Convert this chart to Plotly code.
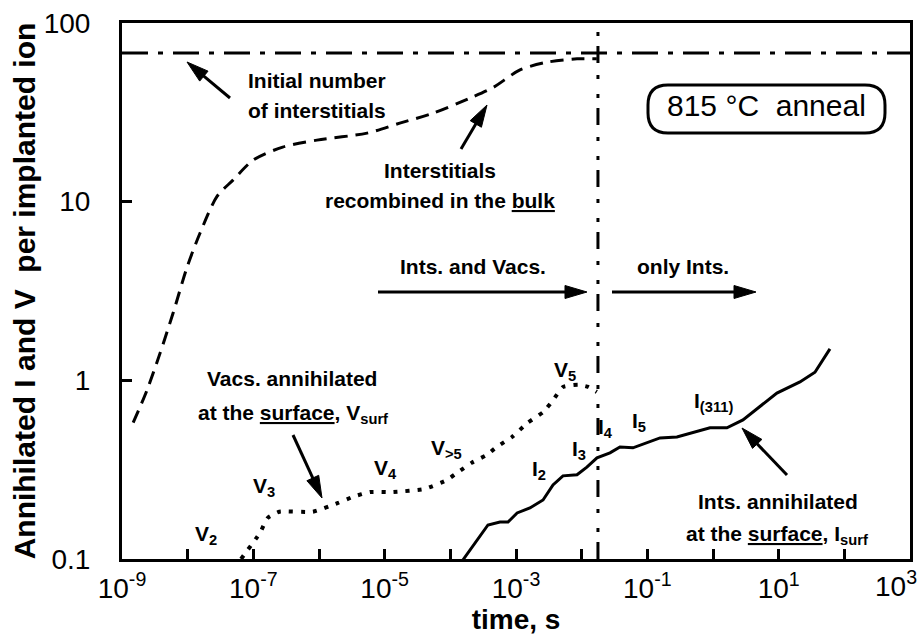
import math
import plotly.graph_objects as go

# ---- data: defect annihilation during a 815 °C anneal ----
# interstitials recombined in the bulk (dashed)
t_bulk = [1.48e-9, 2.4e-9, 3.8e-9, 6.0e-9, 9.8e-9, 1.55e-8, 2.8e-8, 4.9e-8, 1.0e-7,
          2.8e-7, 9.3e-7, 5.4e-6, 1.7e-5, 5.5e-5, 2.0e-4, 4.5e-4, 1.15e-3, 2.95e-3,
          8.5e-3, 1.7e-2]
i_bulk = [0.58, 0.88, 1.42, 2.38, 4.3, 6.7, 10.7, 13.2, 17.1,
          20.2, 22.1, 24.2, 27.5, 31.3, 38.0, 43.6, 54.6, 60.3,
          63.0, 63.0]

# vacancies annihilated at the surface (dotted)
t_vsurf = [6.5e-8, 1.26e-7, 1.66e-7, 2.5e-7, 8.1e-7, 1.95e-6, 3.3e-6, 6.0e-6, 1.35e-5,
           4.1e-5, 8.9e-5, 1.26e-4, 2.1e-4, 3.6e-4, 5.1e-4, 8.7e-4, 1.5e-3, 2.6e-3,
           3.6e-3, 5.2e-3, 8.9e-3, 1.26e-2, 1.7e-2]
v_surf = [0.100, 0.140, 0.170, 0.184, 0.184, 0.206, 0.223, 0.237, 0.237,
          0.247, 0.277, 0.303, 0.345, 0.383, 0.424, 0.482, 0.578, 0.665,
          0.767, 0.918, 0.944, 0.918, 0.861]

# interstitials annihilated at the surface (solid)
t_isurf = [1.56e-4, 3.74e-4, 5.7e-4, 7.55e-4, 1.04e-3, 1.63e-3, 2.58e-3, 3.66e-3, 5.19e-3,
           8.5e-3, 1.2e-2, 1.71e-2, 2.7e-2, 3.83e-2, 6.04e-2, 9.9e-2, 0.156, 0.282,
           0.9, 1.63, 2.86, 9.4, 21.1, 35.7, 60.4]
i_surf = [0.099, 0.155, 0.161, 0.161, 0.181, 0.193, 0.214, 0.26, 0.292,
          0.296, 0.327, 0.368, 0.393, 0.424, 0.419, 0.447, 0.476, 0.482,
          0.542, 0.542, 0.60, 0.849, 0.98, 1.11, 1.5]

initial_interstitials = 68.0   # per implanted ion
t_vac_exhausted = 0.0177       # s, end of the vacancy regime

x_range = [1e-9, 1e3]
y_range = [0.1, 100]
x_tick_vals = [1e-9, 1e-7, 1e-5, 1e-3, 1e-1, 1e1]
x_tick_text = ["10<sup>-9</sup>", "10<sup>-7</sup>", "10<sup>-5</sup>",
               "10<sup>-3</sup>", "10<sup>-1</sup>", "10<sup>1</sup>"]
x_minor_vals = [1e-8, 1e-6, 1e-4, 1e-2, 1e0, 1e2]
x_last_tick_text = "10<sup>3</sup>"
y_tick_vals = [0.1, 1, 10, 100]
y_tick_text = ["0.1", "1", "10", "100"]

# ---- geometry of the figure (pixels) ----
FIG_W, FIG_H = 919, 644
L, R, T, B = 122, 9, 23, 85
PW, PH = FIG_W - L - R, FIG_H - T - B
FONT = "Arial, 'Liberation Sans', sans-serif"


def paper(px, py):
    """pixel position in the figure -> paper coordinates"""
    return (px - L) / PW, (FIG_H - B - py) / PH


fig = go.Figure()

fig.add_trace(go.Scatter(x=x_range, y=[initial_interstitials] * 2, mode="lines",
                         line=dict(color="black", width=3, dash="26px,10px,5px,10px")))
fig.add_trace(go.Scatter(x=[t_vac_exhausted] * 2, y=y_range, mode="lines",
                         line=dict(color="black", width=3,
                                   dash="17px,10px,4px,15px,4px,12px")))
fig.add_trace(go.Scatter(x=t_bulk, y=i_bulk, mode="lines", line_shape="spline",
                         line=dict(color="black", width=3, dash="13px,8px", smoothing=0.8)))
fig.add_trace(go.Scatter(x=t_vsurf, y=v_surf, mode="lines", line_shape="spline",
                         line=dict(color="black", width=4, dash="4px,8px", smoothing=0.5)))
fig.add_trace(go.Scatter(x=t_isurf, y=i_surf, mode="lines",
                         line=dict(color="black", width=3)))

shapes = []


def arrow(tail, tip, head_len=22, head_half=6.5, width=3):
    tx, ty = tail
    hx, hy = tip
    d = math.hypot(hx - tx, hy - ty)
    ux, uy = (hx - tx) / d, (hy - ty) / d
    bx, by = hx - head_len * ux, hy - head_len * uy
    p1 = (bx - head_half * uy, by + head_half * ux)
    p2 = (bx + head_half * uy, by - head_half * ux)
    x0, y0 = paper(tx, ty)
    x1, y1 = paper(bx + 2 * ux, by + 2 * uy)
    shapes.append(dict(type="line", xref="paper", yref="paper", x0=x0, y0=y0, x1=x1, y1=y1,
                       line=dict(color="black", width=width)))
    pts = [paper(hx, hy), paper(*p1), paper(*p2)]
    path = "M{:.5f},{:.5f} L{:.5f},{:.5f} L{:.5f},{:.5f} Z".format(*pts[0], *pts[1], *pts[2])
    shapes.append(dict(type="path", xref="paper", yref="paper", path=path,
                       fillcolor="black", line=dict(color="black", width=1)))


def rounded_box(x0, y0, x1, y1, r):
    pts = [(x0 + r, y0), (x1 - r, y0), (x1, y0), (x1, y0 + r), (x1, y1 - r), (x1, y1),
           (x1 - r, y1), (x0 + r, y1), (x0, y1), (x0, y1 - r), (x0, y0 + r), (x0, y0),
           (x0 + r, y0)]
    p = [paper(*q) for q in pts]
    f = lambda q: "{:.5f},{:.5f}".format(*q)
    path = ("M" + f(p[0]) + " L" + f(p[1]) + " Q" + f(p[2]) + " " + f(p[3]) +
            " L" + f(p[4]) + " Q" + f(p[5]) + " " + f(p[6]) +
            " L" + f(p[7]) + " Q" + f(p[8]) + " " + f(p[9]) +
            " L" + f(p[10]) + " Q" + f(p[11]) + " " + f(p[12]) + " Z")
    shapes.append(dict(type="path", xref="paper", yref="paper", path=path,
                       line=dict(color="black", width=3)))


arrow((230, 98), (187, 62))        # initial number of interstitials
arrow((461, 149), (487, 105))      # recombined in the bulk
arrow((378, 292), (587, 292))      # ints. and vacs.
arrow((612, 292), (756, 292))      # only ints.
arrow((293, 435), (322, 498))      # V_surf
arrow((787, 475), (742, 428))      # I_surf
rounded_box(648, 85, 885, 133, 20)

annotations = []


def label(text, px, py, size=21, bold=True, xanchor="center"):
    x, y = paper(px, py)
    annotations.append(dict(text=("<b>" + text + "</b>") if bold else text,
                            x=x, y=y, xref="paper", yref="paper", showarrow=False,
                            xanchor=xanchor, yanchor="middle",
                            font=dict(family=FONT, size=size, color="black")))


label("Initial number", 246, 80, xanchor="left")
label("of interstitials", 246, 110, xanchor="left")
label("Interstitials", 440, 170)
label("recombined in the <u>bulk</u>", 440, 200)
label("Ints. and Vacs.", 473, 266)
label("only Ints.", 683, 266)
label("815 °C  anneal", 766, 106, size=30, bold=False)
label("Vacs. annihilated", 292, 378)
label("at the <u>surface</u>, V<sub>surf</sub>", 293, 414)
label("V<sub>2</sub>", 206, 535)
label("V<sub>3</sub>", 264, 487)
label("V<sub>4</sub>", 385, 469)
label("V<sub>&gt;5</sub>", 446, 449)
label("V<sub>5</sub>", 565, 371)
label("I<sub>2</sub>", 539, 470)
label("I<sub>3</sub>", 579, 450)
label("I<sub>4</sub>", 605, 428)
label("I<sub>5</sub>", 639, 422)
label("I<sub>(311)</sub>", 713, 402)
label("Ints. annihilated", 778, 501)
label("at the <u>surface</u>, I<sub>surf</sub>", 777, 535)
# last decade label on the time axis, pulled inside the figure edge
label(x_last_tick_text, 919, 584, size=28, bold=False, xanchor="right")

axis_common = dict(type="log", showgrid=False, zeroline=False, showline=True,
                   linecolor="black", linewidth=3, mirror=True, ticks="inside",
                   ticklen=10, tickwidth=2.5, tickcolor="black",
                   tickfont=dict(family=FONT, size=28, color="black"))

fig.update_layout(
    width=FIG_W, height=FIG_H,
    margin=dict(l=L, r=R, t=T, b=B, autoexpand=False),
    paper_bgcolor="white", plot_bgcolor="white",
    showlegend=False,
    shapes=shapes, annotations=annotations,
    xaxis=dict(axis_common, range=[-9, 3], tickmode="array", tickvals=x_tick_vals,
               ticktext=x_tick_text, ticklabelstandoff=2,
               minor=dict(tickmode="array", tickvals=x_minor_vals + [1e3], ticks="inside",
                          ticklen=10, tickwidth=2.5, tickcolor="black", showgrid=False),
               title=dict(text="<b>time, s</b>", standoff=2,
                          font=dict(family=FONT, size=28, color="black"))),
    yaxis=dict(axis_common, range=[-1, 2], tickmode="array", tickvals=y_tick_vals,
               ticktext=y_tick_text, ticklabelstandoff=23,
               title=dict(text="<b>Annihilated I and V  per implanted ion</b>", standoff=0,
                          font=dict(family=FONT, size=30, color="black"))),
)

fig.write_html("out.html")
